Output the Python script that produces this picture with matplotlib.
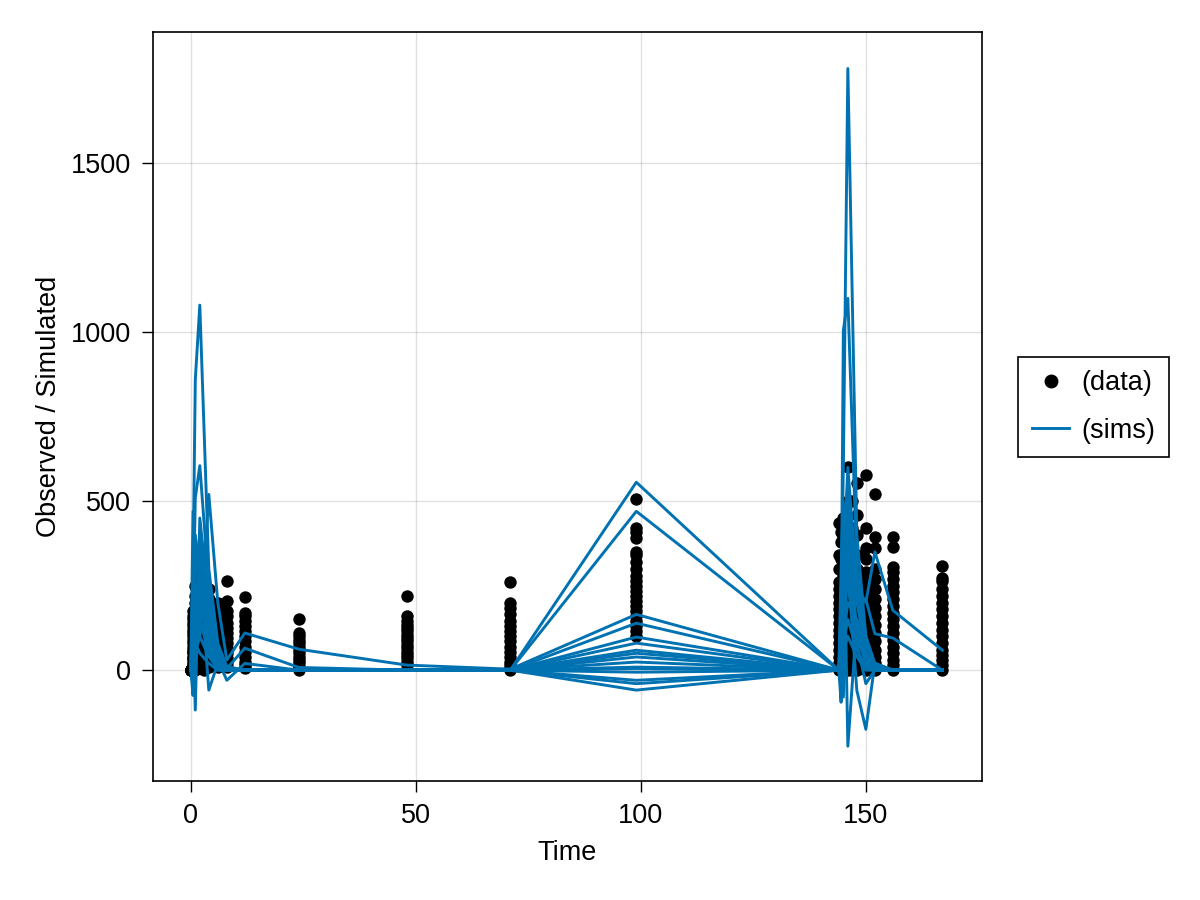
import matplotlib.pyplot as plt
from matplotlib.lines import Line2D

plt.rcParams['font.family'] = ['Liberation Sans', 'DejaVu Sans']

# observed data: one list of values per sampling time
obs_times = [0, 0.5, 1, 2, 3, 4, 6, 8, 12, 24, 48, 71, 99,
             144, 144.5, 145, 146, 147, 148, 150, 152, 156, 167]
obs_values = [
    [0, 0, 0, 0, 0, 0, 0, 0],
    [0, 5, 10, 15, 20, 30, 35, 40, 50, 55, 60, 70, 80, 90, 100, 110, 120, 130, 140, 150, 160, 175],
    [0, 10, 20, 30, 45, 60, 75, 90, 100, 115, 130, 150, 165, 180, 200, 220, 250],
    [5, 20, 40, 60, 80, 100, 120, 140, 160, 180, 200, 220, 240, 260, 290, 310, 345],
    [0, 15, 30, 50, 70, 90, 110, 130, 150, 170, 190, 215, 240, 280],
    [10, 30, 50, 70, 90, 110, 130, 150, 170, 190, 210, 240],
    [10, 25, 40, 60, 80, 100, 120, 140, 160, 180, 200],
    [10, 20, 35, 50, 65, 80, 95, 110, 125, 140, 160, 175, 205, 263],
    [5, 15, 25, 40, 55, 70, 85, 100, 115, 130, 145, 160, 170, 216],
    [0, 5, 10, 20, 30, 40, 50, 60, 70, 80, 90, 100, 110, 150],
    [15, 25, 35, 45, 55, 65, 75, 85, 95, 105, 115, 125, 135, 145, 160, 218],
    [0, 5, 15, 25, 40, 55, 70, 85, 100, 115, 130, 145, 165, 185, 200, 260],
    [100, 115, 130, 145, 160, 175, 190, 205, 220, 235, 250, 265, 280, 300, 320,
     340, 350, 390, 410, 420, 505],
    [0, 10, 20, 40, 60, 80, 100, 120, 140, 160, 180, 200, 220, 240, 260, 300, 340, 435],
    [0, 15, 30, 50, 70, 90, 110, 130, 150, 175, 200, 230, 260, 300, 330, 380, 410],
    [0, 20, 45, 70, 95, 120, 145, 170, 195, 220, 250, 280, 310, 340, 390, 450],
    [0, 20, 40, 60, 90, 120, 150, 180, 210, 240, 270, 300, 350, 400, 500, 600],
    [0, 25, 50, 80, 110, 140, 170, 200, 230, 260, 290, 330, 380, 420, 500],
    [0, 20, 40, 60, 90, 120, 150, 180, 210, 240, 270, 300, 340, 400, 460, 555],
    [0, 20, 40, 65, 90, 115, 140, 170, 200, 230, 260, 290, 330, 360, 420, 577],
    [0, 20, 40, 60, 85, 110, 135, 160, 185, 210, 240, 270, 300, 360, 395, 520],
    [0, 15, 30, 50, 70, 90, 110, 130, 150, 170, 190, 210, 230, 250, 270, 290, 305, 365, 395],
    [0, 15, 30, 45, 60, 80, 100, 120, 140, 160, 180, 200, 220, 240, 263, 272, 308],
]

# simulated series, one per subject, on a shared time grid
sim_times = [0, 0.5, 1, 2, 4, 6, 8, 12, 24, 48, 71, 99,
             144, 144.5, 145, 146, 148, 150, 152, 156, 167]
sims = [
    [0, 300, 860, 1080, 300, 80, 10, 0, 0, 0, 0, 556, 0, 200, 600, 1780, 400, 100, 20, 0, 0],
    [0, 150, 510, 605, 250, 60, 5, 0, 0, 0, 0, 470, 0, 100, 1005, 1100, 300, 50, 10, 0, 0],
    [0, 470, 200, 100, 520, 200, 30, 110, 62, 15, 3, 165, 0, 50, 300, 600, 250, 200, 350, 177, 59],
    [0, -75, 300, 400, 150, 40, 5, 65, 8, 0, 0, 139, 0, -95, 400, 550, 200, 210, 108, 95, 0],
    [0, 100, -118, 450, 200, 30, -30, 20, 0, 0, 0, 98, 0, 300, 500, -225, 150, 40, 10, 0, 0],
    [0, 50, 200, 300, -59, 20, 10, 0, 0, 0, 0, 80, 0, 150, 450, 300, -60, -175, 20, 0, 0],
    [0, 200, 350, 250, 100, 20, 0, 0, 0, 0, 0, 59, 0, 80, 250, 400, 300, 100, 0, 0, 0],
    [0, 30, 100, 200, 80, 10, 0, 0, 0, 0, 0, 50, 0, 40, 150, 350, 250, 80, 20, 0, 0],
    [0, -40, 150, 350, 150, 40, 0, 0, 0, 0, 0, 39, 0, 20, 100, 200, 150, 50, 0, 0, 0],
    [0, 80, 250, 150, 50, 0, 0, 0, 0, 0, 0, 24, 0, -50, 200, 450, 100, 30, 0, 0, 0],
    [0, 10, 50, 100, 40, 5, 0, 0, 0, 0, 0, 9, 0, 10, 80, 150, 60, 10, 0, 0, 0],
    [0, 120, 400, 200, 100, 40, 0, 0, 0, 0, 0, 5, 0, 60, 350, 250, 80, -40, 0, 0, 0],
    [0, 20, 80, 50, 20, 0, 0, 0, 0, 0, 0, -6, 0, 30, 60, 100, 40, 0, 0, 0, 0],
    [0, -20, 60, 150, 60, 10, 0, 0, 0, 0, 0, -30, 0, 20, 200, 300, 100, 20, 0, 0, 0],
    [0, 60, 180, 280, 120, 30, 0, 0, 0, 0, 0, -40, 0, 50, 120, 500, 200, 60, 0, 0, 0],
    [0, 40, 120, 220, 90, 15, 0, 0, 0, 0, 0, -59, 0, 0, -80, 380, 120, 40, 0, 0, 0],
]

blue = '#0072B2'
fs = 19.5

fig = plt.figure(figsize=(12, 9), dpi=100)
ax = fig.add_axes([0.1275, 0.1322, 0.6908, 0.8322])

for t, vals in zip(obs_times, obs_values):
    ax.scatter([t] * len(vals), vals, s=80, color='black', linewidths=0, zorder=2)
for s in sims:
    ax.plot(sim_times, s, color=blue, lw=2.1, zorder=3)

ax.set_xlim(-8.4, 175.8)
ax.set_ylim(-328, 1888)
ax.set_xticks([0, 50, 100, 150])
ax.set_yticks([0, 500, 1000, 1500])
ax.grid(True, color='black', alpha=0.12, lw=1)
ax.set_axisbelow(True)
ax.tick_params(labelsize=fs, direction='out', length=8, width=1, pad=8)
for sp in ax.spines.values():
    sp.set_linewidth(1.2)
ax.set_xlabel('Time', fontsize=fs, labelpad=8)
ax.set_ylabel('Observed / Simulated', fontsize=fs, labelpad=6)

handles = [Line2D([], [], marker='o', color='black', ls='none', markersize=9),
           Line2D([], [], color=blue, lw=2.1)]
leg = fig.legend(handles, ['(data)', '(sims)'], loc='center left',
                 bbox_to_anchor=(1018 / 1200, 1 - 407 / 900), borderaxespad=0,
                 fontsize=fs, frameon=True, fancybox=False, framealpha=1,
                 edgecolor='black', handlelength=1.4, borderpad=0.5,
                 labelspacing=0.8, handletextpad=0.45)
leg.get_frame().set_linewidth(1.2)

fig.savefig('out.png', dpi=100)
